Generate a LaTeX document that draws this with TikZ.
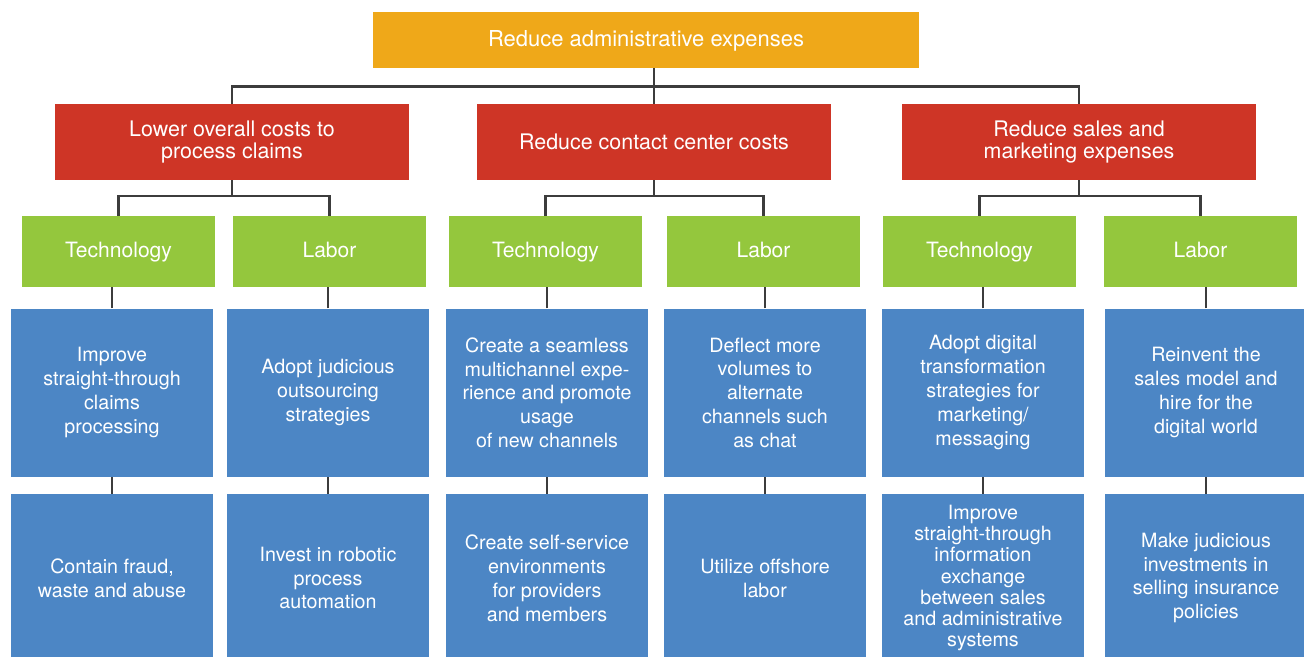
\documentclass[tikz,border=0pt]{standalone}
\usepackage{fontspec}
\setmainfont{TeX Gyre Heros}
\usepackage{tikz}

\definecolor{goalorange}{RGB}{239,168,25}
\definecolor{costred}{RGB}{206,53,38}
\definecolor{grpgreen}{RGB}{148,199,61}
\definecolor{actblue}{RGB}{76,134,197}
\definecolor{linkgray}{RGB}{60,60,60}

\begin{document}
\begin{tikzpicture}[x=0.02cm,y=-0.02cm,
   box/.style={fill,text=white,inner sep=0pt,align=center},
   goalbox/.style={box,fill=goalorange,minimum width=546*0.02cm,minimum height=55.5*0.02cm,text height=1.7ex,text depth=0.3ex,font=\fontsize{12.5}{13}\selectfont},
   costbox/.style={box,fill=costred,minimum width=354*0.02cm,minimum height=76*0.02cm,font=\fontsize{12.2}{12.3}\selectfont},
   grpbox/.style={box,fill=grpgreen,minimum width=193*0.02cm,minimum height=70.5*0.02cm,text height=1.7ex,text depth=0.3ex,font=\fontsize{12}{13}\selectfont},
   actbox/.style={box,fill=actblue,minimum width=202*0.02cm,minimum height=168*0.02cm,font=\fontsize{11.2}{13.6}\selectfont},
   link/.style={draw=linkgray,line width=1.4pt}]
      \useasboundingbox (0,0) rectangle (1304,656);
      \clip (0,0) rectangle (1304,656);
      \node[goalbox] (goal) at (646,39.75) {Reduce administrative expenses};
      \node[costbox] (cost1) at (232,142) {Lower overall costs to\\process claims};
      \node[costbox] (cost2) at (654,142) {Reduce contact center costs};
      \node[costbox] (cost3) at (1079,142) {Reduce sales and\\marketing expenses};
      \foreach \i/\x/\t in {1/118.5/Technology,2/329.5/Labor,3/545.5/Technology,4/763.5/Labor,5/979.5/Technology,6/1200.5/Labor} {\node[grpbox] (grp\i) at (\x,251.25) {\t}; }
      \foreach \i/\x/\t in {1/112/{Improve\\straight-through\\claims\\processing},2/328/{Adopt judicious\\outsourcing\\strategies},3/547/{Create a seamless\\multichannel expe-\\rience and promote\\usage\\of new channels},4/765/{Deflect more\\volumes to\\alternate\\channels such\\as chat},5/983/{Adopt digital\\transformation\\strategies for\\marketing/\\messaging},6/1206/{Reinvent the\\sales model and\\hire for the\\digital world}} {\node[actbox] (a\i) at (\x,392.75) {\t}; }
      \node[actbox] (b1) at (112,578) {Contain fraud,\\waste and abuse};
      \node[actbox] (b2) at (328,578) {Invest in robotic\\process\\automation};
      \node[actbox] (b3) at (547,578) {Create self-service\\environments\\for providers\\and members};
      \node[actbox] (b4) at (765,578) {Utilize offshore\\labor};
      \node[actbox,font=\fontsize{11.2}{12.1}\selectfont] (b5) at (983,578) {Improve\\straight-through\\information\\exchange\\between sales\\and administrative\\systems};
      \node[actbox] (b6) at (1206,578) {Make judicious\\investments in\\selling insurance\\policies};
      \draw[link] (goal.south -| cost2.north) -- (cost2.north);
      \draw[link] (cost1.north) -- ++(0,-17) -| (cost3.north);
      \foreach \c/\l/\r in {1/1/2,2/3/4,3/5/6} {\draw[link] (cost\c.south) -- ++(0,17); \draw[link] (grp\l.north) -- ++(0,-19.5) -| (grp\r.north); }
      \foreach \i in {1,...,6} {\draw[link] (a\i.north) -- (a\i.north |- grp\i.south); \draw[link] (a\i.south) -- (b\i.north); }
   \end{tikzpicture}
\end{document}
